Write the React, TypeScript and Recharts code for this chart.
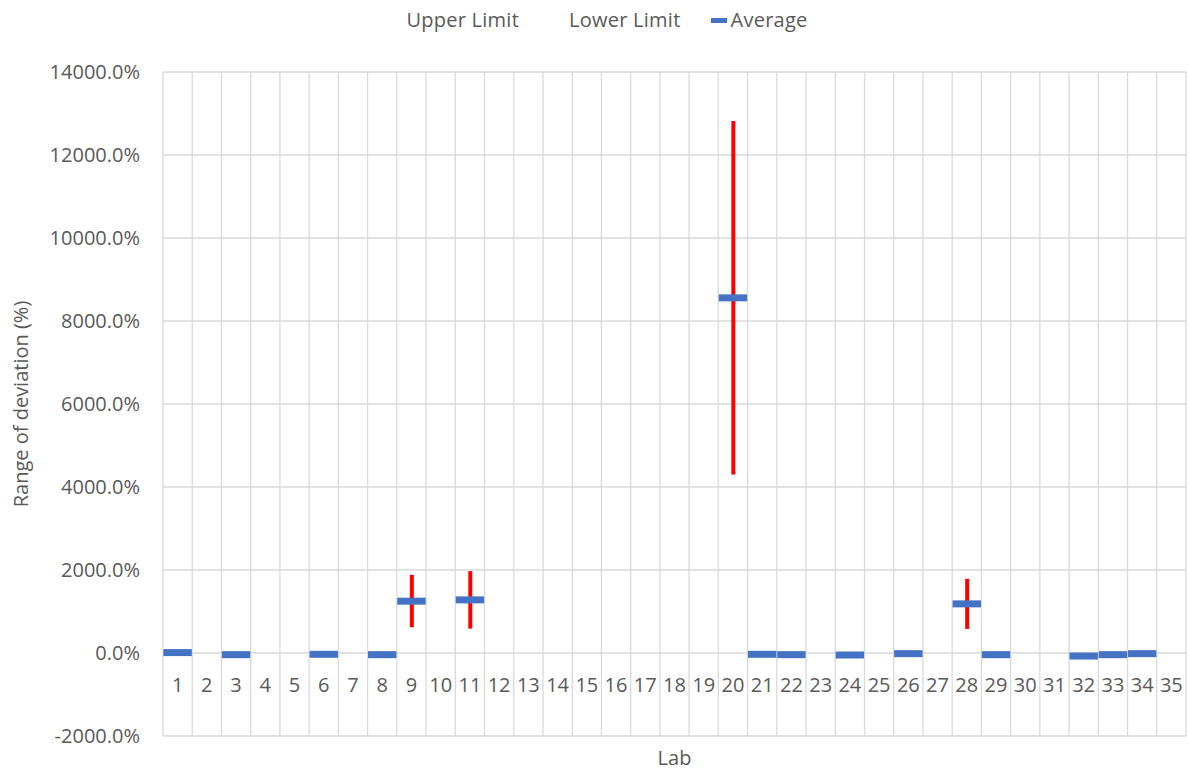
import {
  ComposedChart,
  Bar,
  Line,
  XAxis,
  YAxis,
  CartesianGrid,
  Legend,
  Label,
} from "recharts";

const labs = [
  "1", "2", "3", "4", "5", "6", "7", "8", "9", "10",
  "11", "12", "13", "14", "15", "16", "17", "18", "19", "20",
  "21", "22", "23", "24", "25", "26", "27", "28", "29", "30",
  "31", "32", "33", "34", "35",
];

const averages: (number | null)[] = [
  10, null, -40, null, null, -32, null, -40, 1249, null,
  1280, null, null, null, null, null, null, null, null, 8558,
  -32, -40, null, -48, null, -16, null, 1184, -40, null,
  null, -73, -40, -16, null,
];

const upperLimits: (number | null)[] = [
  null, null, null, null, null, null, null, null, 1884, null,
  1973, null, null, null, null, null, null, null, null, 12819,
  null, null, null, null, null, null, null, 1787, null, null,
  null, null, null, null, null,
];

const lowerLimits: (number | null)[] = [
  null, null, null, null, null, null, null, null, 621, null,
  587, null, null, null, null, null, null, null, null, 4300,
  null, null, null, null, null, null, null, 580, null, null,
  null, null, null, null, null,
];

const yTicks = [-2000, 0, 2000, 4000, 6000, 8000, 10000, 12000, 14000];

const data = labs.map((lab, i) => ({
  lab,
  avg: averages[i],
  range:
    upperLimits[i] != null && lowerLimits[i] != null
      ? [lowerLimits[i], upperLimits[i]]
      : null,
}));

const TEXT = "#595959";
const BLUE = "#4472C4";
const FONT = "'Open Sans', sans-serif";

function AvgMarker(props: any) {
  const { cx, cy, index } = props;
  if (cx == null || cy == null || averages[index] == null) return <g key={index} />;
  return (
    <rect key={index} x={cx - 14.2} y={cy - 3.5} width={28.4} height={7} fill={BLUE} />
  );
}

function LabTick(props: any) {
  const { x, y, payload } = props;
  return (
    <text x={x} y={y - 44} textAnchor="middle" fill={TEXT} fontSize={20} fontFamily={FONT}>
      {payload.value}
    </text>
  );
}

function LegendContent() {
  const item = (label: string, icon: boolean, gap: number) => (
    <div style={{ display: "flex", alignItems: "center", marginLeft: gap }}>
      <span
        style={{
          display: "inline-block",
          width: 16,
          height: 5,
          marginRight: 4,
          background: icon ? BLUE : "transparent",
        }}
      />
      <span>{label}</span>
    </div>
  );
  return (
    <div
      style={{
        height: 72,
        display: "flex",
        justifyContent: "center",
        alignItems: "flex-start",
        paddingTop: 6,
        paddingLeft: 8,
        boxSizing: "border-box",
        lineHeight: "28px",
        fontSize: 20,
        letterSpacing: 0.25,
        color: TEXT,
        fontFamily: FONT,
      }}
    >
      {item("Upper Limit", false, 0)}
      {item("Lower Limit", false, 30)}
      {item("Average", true, 30)}
    </div>
  );
}

export default function App() {
  return (
    <div style={{ width: 1189, height: 771 }}>
      <style>{`body{margin:0}`}</style>
      <ComposedChart
        width={1189}
        height={771}
        data={data}
        margin={{ top: 0, right: 3, left: 0, bottom: 0 }}
        style={{ fontFamily: FONT }}
      >
        <CartesianGrid
          stroke="#D9D9D9"
          strokeWidth={1.3}
          verticalCoordinatesGenerator={({ offset }: any) =>
            labs.map((_, i) => offset.left + (i * offset.width) / labs.length).concat([
              offset.left + offset.width,
            ])
          }
        />
        <Legend verticalAlign="top" content={<LegendContent />} />
        <XAxis
          dataKey="lab"
          height={35}
          axisLine={false}
          tickLine={false}
          tickSize={0}
          tickMargin={0}
          interval={0}
          tick={<LabTick />}
        >
          <Label
            value="Lab"
            position="insideBottom"
            offset={6}
            fill={TEXT}
            fontSize={20}
            fontFamily={FONT}
          />
        </XAxis>
        <YAxis
          width={163}
          domain={[-2000, 14000]}
          ticks={yTicks}
          allowDataOverflow
          axisLine={false}
          tickLine={false}
          tickMargin={17}
          tick={{ fill: TEXT, fontSize: 20, fontFamily: FONT }}
          tickFormatter={(v: number) => `${v.toFixed(1)}%`}
        >
          <Label
            value="Range of deviation (%)"
            angle={-90}
            position="insideLeft"
            offset={21}
            fill={TEXT}
            fontSize={20}
            fontFamily={FONT}
            style={{ textAnchor: "middle" }}
          />
        </YAxis>
        <Bar dataKey="range" barSize={4} fill="#FF0000" isAnimationActive={false} />
        <Line
          dataKey="avg"
          stroke="none"
          dot={AvgMarker}
          activeDot={false}
          isAnimationActive={false}
        />
      </ComposedChart>
    </div>
  );
}
